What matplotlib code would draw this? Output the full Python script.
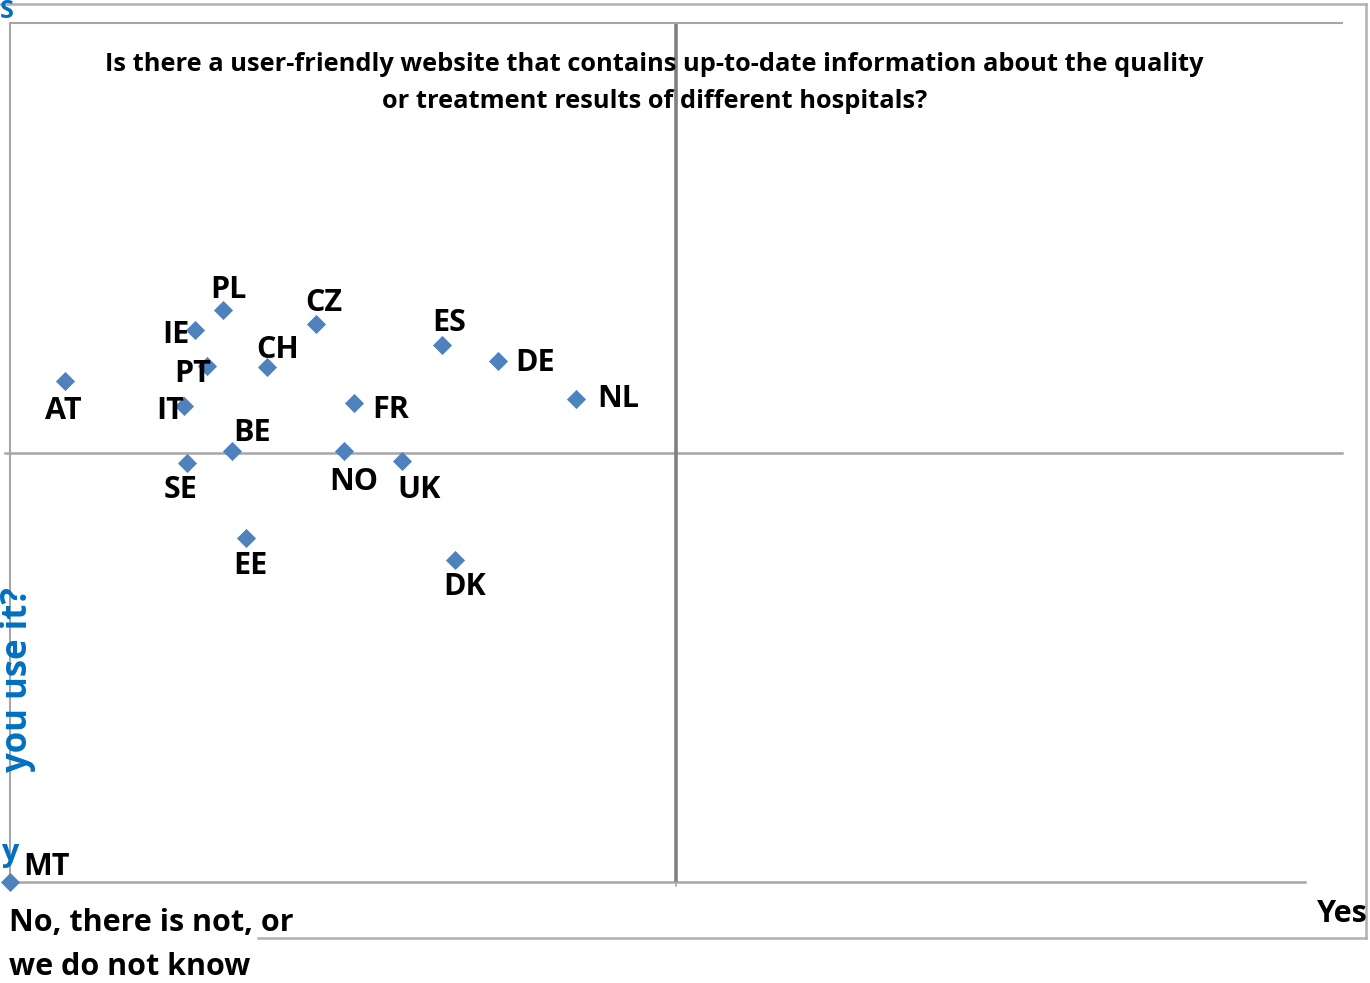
import matplotlib.pyplot as plt
from matplotlib.lines import Line2D

# country scores (x: website exists, y: do you use it), 0-100
countries = ['AT', 'PL', 'IE', 'PT', 'CH', 'IT', 'CZ', 'ES', 'DE', 'NL',
             'FR', 'BE', 'SE', 'NO', 'UK', 'EE', 'DK', 'MT']
x_vals = [4.1, 16.0, 13.9, 14.8, 19.3, 13.1, 23.0, 32.4, 36.6, 42.5,
          25.8, 16.7, 13.3, 25.1, 29.4, 17.7, 33.4, 0.0]
y_vals = [58.3, 66.6, 64.3, 60.1, 59.9, 55.4, 65.0, 62.5, 60.7, 56.2,
          55.8, 50.2, 48.8, 50.2, 49.0, 40.0, 37.5, 0.0]

# label offsets in pixels (dx, dy)
label_offsets = [(-1, -30), (5, 20), (-19, -5), (-14, -8), (11, 17), (-14, -5),
                 (7, 21), (8, 22), (38, -2), (42, 0), (37, -7), (20, 18),
                 (-7, -27), (9, -31), (17, -29), (5, -28), (10, -27), (36, 15)]

title_text = ('Is there a user-friendly website that contains up-to-date information about the quality\n'
              'or treatment results of different hospitals?')

W, H = 1370, 983
MARKER_BLUE = '#4F81BD'
TEXT_BLUE = '#0070C0'
GRID_GRAY = '#A6A6A6'
MID_GRAY = '#808080'
FONT = 'Open Sans'
LABEL_SIZE = 22

fig = plt.figure(figsize=(W / 100, H / 100), dpi=100)
fig.patch.set_facecolor('white')


def fx(px):
    return px / W


def fy(py):
    return 1 - py / H


# outer frame (partly off the picture)
for (x1, y1, x2, y2) in [(0, 4, 1366, 4), (1366, 4, 1366, 938), (258, 938, 1366, 938)]:
    fig.add_artist(Line2D([fx(x1), fx(x2)], [fy(y1), fy(y2)], color='#B0B0B0', linewidth=1.8))

ax = fig.add_axes([fx(10), fy(882), fx(1342) - fx(10), fy(23) - fy(882)])
ax.set_xlim(0, 100)
ax.set_ylim(0, 100)
ax.set_xticks([])
ax.set_yticks([])
for side in ['left', 'top']:
    ax.spines[side].set_color(GRID_GRAY)
    ax.spines[side].set_linewidth(1.5)
ax.spines['right'].set_visible(False)
ax.spines['bottom'].set_visible(False)

# bottom axis line stops short of the right end
ax.plot([0, 97.2], [0, 0], color=GRID_GRAY, linewidth=1.8, clip_on=False, zorder=1)

# quadrant lines
ax.plot([-0.4, 100], [50, 50], color=GRID_GRAY, linewidth=1.8, clip_on=False, zorder=1)
ax.plot([50, 50], [0, 100], color=MID_GRAY, linewidth=2.6, zorder=1)
ax.plot([50, 50], [0, -0.5], color=GRID_GRAY, linewidth=1.2, clip_on=False, zorder=1)

ax.scatter(x_vals, y_vals, marker='D', s=95, color=MARKER_BLUE, linewidths=0,
           clip_on=False, zorder=3)

for name, xv, yv, (dx, dy) in zip(countries, x_vals, y_vals, label_offsets):
    ax.annotate(name, (xv, yv), xytext=(dx, dy), textcoords='offset pixels',
                ha='center', va='center', fontsize=LABEL_SIZE, fontweight='bold',
                family=FONT, color='black', zorder=4, annotation_clip=False)

ax.text(0.484, 0.930, title_text, transform=ax.transAxes, ha='center', va='center',
        fontsize=18.3, fontweight='bold', family=FONT, linespacing=1.6)

# pieces of the vertical axis title that show in the picture
fig.text(fx(18), fy(680), 'you use it?', rotation=90, ha='center', va='center',
         fontsize=25, fontweight='bold', family=FONT, color=TEXT_BLUE)
fig.text(fx(0), fy(12), 'S', ha='left', va='center', fontsize=18, fontweight='bold',
         family=FONT, color=TEXT_BLUE)
fig.text(fx(1), fy(853), 'y', ha='left', va='center', fontsize=LABEL_SIZE, fontweight='bold',
         family=FONT, color=TEXT_BLUE)

# x axis end labels
fig.text(fx(9), fy(945), 'No, there is not, or\nwe do not know', ha='left', va='center',
         fontsize=LABEL_SIZE, fontweight='bold', family=FONT, linespacing=1.6)
fig.text(fx(1368), fy(914), 'Yes', ha='right', va='center', fontsize=LABEL_SIZE,
         fontweight='bold', family=FONT)

fig.savefig('out.png', dpi=100, facecolor='white')
